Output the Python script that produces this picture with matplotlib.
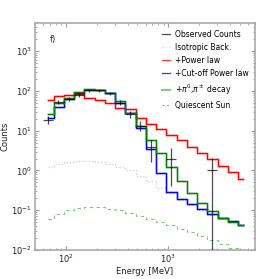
import numpy as np
import matplotlib
matplotlib.use('Agg')
import matplotlib.pyplot as plt
from matplotlib.lines import Line2D

# bin centres [MeV]
energy = np.array([67.3, 84.7, 106.6, 134.2, 169.0, 212.7, 267.8, 337.1, 424.4, 534.3,
                   672.6, 846.8, 1066, 1342, 1690, 2127, 2678, 3371, 4244, 5343])

observed = np.array([19, 53, 64, 81, 105, 105, 87, 51, 25.6, 13.5,
                     3.8, np.nan, 2.0, np.nan, np.nan, np.nan, 1.05, np.nan, np.nan, np.nan])
observed_err = np.array([4.4, 7.3, 8.0, 9.0, 10.2, 10.2, 9.3, 7.1, 5.0, 3.7,
                         2.2, np.nan, 1.6, np.nan, np.nan, np.nan, 1.05, np.nan, np.nan, np.nan])

isotropic = np.array([1.22, 1.49, 1.6, 1.74, 1.74, 1.64, 1.46, 1.22, 1.0, 0.74,
                      0.53, 0.36, 0.27, 0.18, 0.14, 0.10, 0.078, 0.06, 0.052, 0.041])
power_law = np.array([61, 73, 80, 82, 66, 60, 51, 38, 36, 21,
                      15, 11.2, 8.0, 5.7, 3.9, 2.76, 1.95, 1.32, 0.90, 0.61])
cutoff_pl = np.array([21, 40, 64, 87, 105, 105, 87, 51, 28, 11.8,
                      3.5, 0.87, 0.28, 0.19, 0.145, 0.107, 0.081, 0.063, 0.054, 0.043])
pion = np.array([25.6, 51, 68, 94, 110, 105, 91, 56, 28, 13.5,
                 6.0, 2.76, 1.2, 0.53, 0.27, 0.156, 0.093, 0.065, 0.052, 0.043])
quiet_sun = np.array([0.06, 0.081, 0.10, 0.113, 0.119, 0.119, 0.11, 0.102, 0.086, 0.071,
                      0.06, 0.052, 0.043, 0.034, 0.029, 0.0226, 0.018, 0.014, 0.011, 0.0095])

fig = plt.figure(figsize=(2.75, 2.79), dpi=100)
ax = fig.add_axes([0.127, 0.104, 0.8, 0.812])

# bin edges for the horizontal error bars
lo = energy - energy / 10**0.05
hi = energy * 10**0.05 - energy
ax.errorbar(energy, observed, xerr=[lo, hi], yerr=observed_err, fmt='none',
            ecolor='k', alpha=0.7, lw=0.9, zorder=5)
ax.plot(energy, isotropic, drawstyle='steps-mid', color='#cccccc', ls=':', lw=0.9)

for vals, col in [(power_law, 'red'), (cutoff_pl, 'blue'), (pion, 'green')]:
    ax.plot(energy, vals, drawstyle='steps-mid', color=col, alpha=0.35, lw=1.8)
    ax.plot(energy, vals, drawstyle='steps-mid', color=col, lw=0.8)

ax.plot(energy, quiet_sun, drawstyle='steps-mid', color='#7fc97f', lw=0.8, dashes=(3, 3))

ax.set_xscale('log')
ax.set_yscale('log')
ax.set_xlim(50, 7000)
ax.set_ylim(1e-2, 5e3)
ax.set_xlabel('Energy [MeV]', fontsize=6, color='#222222', labelpad=1)
ax.set_ylabel('Counts', fontsize=6, color='#222222', labelpad=1)
ax.tick_params(which='both', direction='in', top=True, right=True, labelsize=6,
               colors='#999999', labelcolor='#222222', pad=2)
ax.tick_params(which='major', length=3)
ax.tick_params(which='minor', length=1.5)
for s in ax.spines.values():
    s.set_color('#aaaaaa')
    s.set_linewidth(1.2)

ax.text(0.07, 0.95, 'f)', transform=ax.transAxes, fontsize=6, va='top', color='#222222')

handles = [Line2D([], [], color='k', alpha=0.7, lw=0.9),
           Line2D([], [], color='#dddddd', ls=':', lw=0.9),
           Line2D([], [], color='red', lw=0.9, alpha=0.8),
           Line2D([], [], color='blue', lw=0.9, alpha=0.8),
           Line2D([], [], color='green', lw=1.5, alpha=0.45),
           Line2D([], [], color='#7fc97f', lw=0.8, dashes=(2, 2))]
labels = ['Observed Counts', 'Isotropic Back.', '+Power law', '+Cut-off Power law',
          r'+$\pi^0$,$\pi^\pm$ decay', 'Quiescent Sun']
ax.legend(handles, labels, loc='upper right', fontsize=5.5, frameon=False,
          handlelength=1.0, handletextpad=0.7, labelspacing=0.55, borderaxespad=0.4)

fig.savefig('out.png', dpi=100)
